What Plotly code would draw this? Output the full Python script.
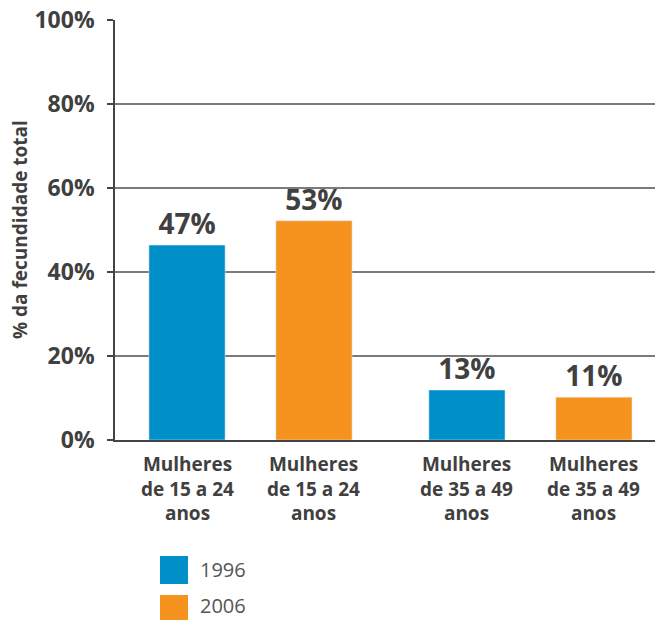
import plotly.graph_objects as go

# ---- data ----
groups = ["15-24", "35-49"]
series_names = ["1996", "2006"]
values_1996 = [46.4, 11.9]
values_2006 = [52.2, 10.2]
labels_1996 = ["47%", "13%"]
labels_2006 = ["53%", "11%"]
bar_labels_1996 = ["Mulheres<br>de 15 a 24<br>anos", "Mulheres<br>de 35 a 49<br>anos"]
bar_labels_2006 = ["Mulheres<br>de 15 a 24<br>anos", "Mulheres<br>de 35 a 49<br>anos"]
y_ticks = [0, 20, 40, 60, 80, 100]
y_tick_text = ["0%", "20%", "40%", "60%", "80%", "100%"]

BLUE = "#008FC9"
ORANGE = "#F6921E"
TXT = "#404040"
FONT = "Open Sans"

W, H = 655, 620
ML, MR, MT, MB = 115, 0, 20, 180
plot_w = W - ML - MR
plot_h = H - MT - MB

bargap = 0.093
bargroupgap = 0.40
x_range = [-0.484, 1.445]
px_per_cat = plot_w / (x_range[1] - x_range[0])
slot_px = px_per_cat * (1 - bargap) / 2

fig = go.Figure()
fig.add_trace(go.Bar(
    x=groups, y=values_1996, name=series_names[0], marker_color=BLUE,
    text=labels_1996, textposition="outside", cliponaxis=False,
    textfont=dict(family=FONT, size=28, color=TXT, weight="bold"),
    showlegend=False,
))
fig.add_trace(go.Bar(
    x=groups, y=values_2006, name=series_names[1], marker_color=ORANGE,
    text=labels_2006, textposition="outside", cliponaxis=False,
    textfont=dict(family=FONT, size=28, color=TXT, weight="bold"),
    showlegend=False,
))

annotations = []
for i, g in enumerate(groups):
    for lab, shift in ((bar_labels_1996[i], -slot_px / 2), (bar_labels_2006[i], slot_px / 2)):
        annotations.append(dict(
            x=g, xref="x", y=0, yref="paper", yanchor="top", yshift=-9,
            xshift=shift, text=lab, showarrow=False,
            font=dict(family=FONT, size=19, color=TXT, weight="bold"),
            align="center",
        ))

# y-axis title
annotations.append(dict(
    x=(20 - ML) / plot_w, xref="paper", y=0.5, yref="paper",
    xanchor="center", yanchor="middle", textangle=-90,
    text="% da fecundidade total", showarrow=False,
    font=dict(family=FONT, size=19, color=TXT, weight="bold"),
))

# custom legend
shapes = []
colors = [BLUE, ORANGE]
for k, name in enumerate(series_names):
    top_px = 556 + k * 39
    y0 = (MT + plot_h - (top_px + 28)) / plot_h
    y1 = (MT + plot_h - top_px) / plot_h
    shapes.append(dict(type="rect", xref="paper", yref="paper",
                       x0=(160 - ML) / plot_w, x1=(188 - ML) / plot_w,
                       y0=y0, y1=y1, fillcolor=colors[k], line=dict(width=0)))
    text_center_px = 569 + k * 36
    annotations.append(dict(
        x=(198 - ML) / plot_w, xref="paper",
        y=(MT + plot_h - text_center_px) / plot_h, yref="paper",
        xanchor="left", yanchor="middle", text=name, showarrow=False,
        font=dict(family=FONT, size=20, color="#555555"),
    ))

fig.update_layout(
    width=W, height=H,
    margin=dict(l=ML, r=MR, t=MT, b=MB, autoexpand=False),
    paper_bgcolor="white", plot_bgcolor="white",
    barmode="group", bargap=bargap, bargroupgap=bargroupgap,
    annotations=annotations, shapes=shapes,
    xaxis=dict(range=x_range, showticklabels=False, ticks="",
               showline=True, linecolor="#444444", linewidth=2,
               showgrid=False, zeroline=False, fixedrange=True),
    yaxis=dict(range=[0, 100], tickvals=y_ticks, ticktext=y_tick_text,
               tickfont=dict(family=FONT, size=23, color=TXT, weight="bold"),
               ticks="outside", ticklen=6, tickcolor="#444444", tickwidth=1.5,
               showline=True, linecolor="#444444", linewidth=1.5,
               showgrid=True, gridcolor="#7a7a7a", gridwidth=1.5,
               zeroline=False, ticklabelstandoff=8),
    showlegend=False,
)

fig.write_html("out.html", config={"displayModeBar": False},
               post_script="document.body.style.margin='0';document.body.style.overflow='hidden';")
